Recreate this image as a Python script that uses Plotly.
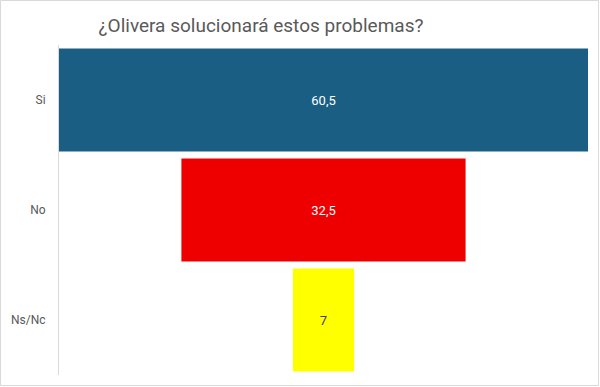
import plotly.graph_objects as go

categories = ["Si", "No", "Ns/Nc"]
values = [60.5, 32.5, 7]
colors = ["#1b5e84", "#ee0000", "#ffff00"]
text_colors = ["#ffffff", "#ffffff", "#404040"]

fig = go.Figure(go.Funnel(
    y=categories,
    x=values,
    marker=dict(color=colors, line=dict(width=0)),
    texttemplate="%{x}",
    textposition="inside",
    insidetextanchor="middle",
    textfont=dict(family="Roboto", size=13, color=text_colors),
    connector=dict(visible=False),
    hoverinfo="skip",
))

W, H = 600, 387
ml, mr, mt, mb = 59, 12, 45, 12
pw = W - ml - mr
ph = H - mt - mb

fig.update_layout(
    width=W, height=H,
    margin=dict(l=ml, r=mr, t=mt, b=mb, autoexpand=False),
    paper_bgcolor="white", plot_bgcolor="white",
    separators=",.",
    funnelgap=0.064,
    showlegend=False,
    title=dict(text="¿Olivera solucionará estos problemas?",
               xref="container", yref="container",
               x=261 / W, xanchor="center", y=1 - 25 / H, yanchor="middle",
               font=dict(family="Roboto", size=19, color="#595959")),
    xaxis=dict(visible=False, range=[-values[0] / 2, values[0] / 2], fixedrange=True),
    yaxis=dict(showline=True, linecolor="#d9d9d9", linewidth=1, automargin=False,
               ticks="outside", ticklen=10, tickcolor="rgba(0,0,0,0)",
               tickfont=dict(family="Roboto", size=12, color="#595959"),
               showgrid=False, zeroline=False),
    shapes=[dict(type="rect", xref="paper", yref="paper",
                 x0=-(ml - 0.5) / pw, x1=1 + (mr - 1.5) / pw,
                 y0=-(mb - 1.5) / ph, y1=1 + (mt - 0.5) / ph,
                 line=dict(color="#d9d9d9", width=1), layer="below")],
)

fig.write_html("out.html", config={"displayModeBar": False},
               post_script="document.body.style.margin='0';")
